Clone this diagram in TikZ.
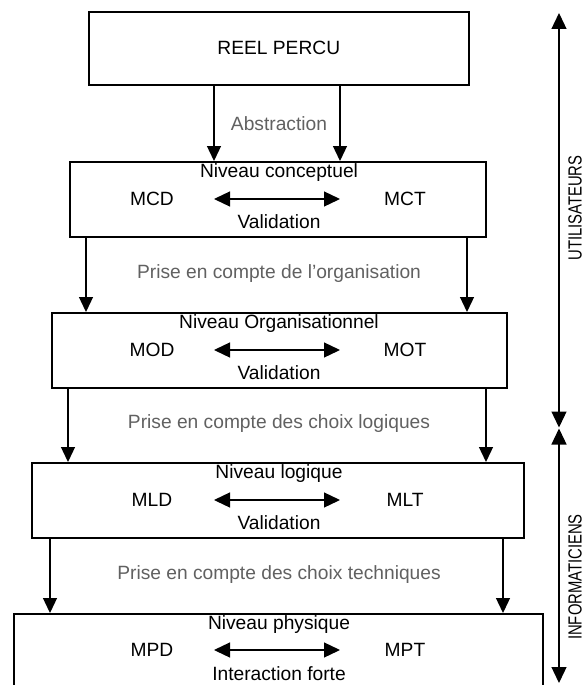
\documentclass[tikz,border=0pt]{standalone}
\usepackage{fontspec}
\setmainfont{Liberation Sans}
\usetikzlibrary{arrows.meta}
\begin{document}
\begin{tikzpicture}[x=1pt,y=-1pt,
  box/.style={draw, line width=1.6pt, inner sep=0pt, anchor=north west},
  lbl/.style={font=\fontsize{19.2}{22}\selectfont, inner sep=0pt},
  glbl/.style={lbl, text=black!62},
  side/.style={font=\fontsize{19}{22}\selectfont, inner sep=0pt, rotate=90},
  arr/.style={line width=1.3pt, -{Triangle[length=15pt,width=14pt]}},
  darr/.style={line width=1.3pt, {Triangle[length=16pt,width=15pt]}-{Triangle[length=16pt,width=15pt]}},
]
\clip (0,0) rectangle (586,685);
\fill[white] (0,0) rectangle (586,685);

% boxes
\node[box, lbl, minimum width=380pt, minimum height=73pt] (b1) at (88,11) {REEL PERCU};
\node[box, minimum width=416pt, minimum height=75pt] (b2) at (69,161) {};
\node[box, minimum width=455pt, minimum height=75pt] (b3) at (51,312) {};
\node[box, minimum width=492pt, minimum height=75pt] (b4) at (31,462) {};
\node[box, minimum width=529pt, minimum height=103pt] (b5) at (13,613) {};

% level contents
\node[lbl] (t2) at (279,173) {Niveau conceptuel};
\node[lbl] (d2) at (152,199) {MCD};
\node[lbl] (p2) at (405,199) {MCT};
\node[lbl] (v2) at (279,222) {Validation};

\node[lbl] (t3) at (279,324) {Niveau Organisationnel};
\node[lbl] (d3) at (152,350) {MOD};
\node[lbl] (p3) at (405,350) {MOT};
\node[lbl] (v3) at (279,373) {Validation};

\node[lbl] (t4) at (279,474) {Niveau logique};
\node[lbl] (d4) at (152,500) {MLD};
\node[lbl] (p4) at (405,500) {MLT};
\node[lbl] (v4) at (279,523) {Validation};

\node[lbl] (t5) at (279,625) {Niveau physique};
\node[lbl] (d5) at (152,650) {MPD};
\node[lbl] (p5) at (405,650) {MPT};
\node[lbl] (v5) at (279,674) {Interaction forte};

% double arrows between data and treatment models
\coordinate (hl) at (214,0); \coordinate (hr) at (340,0);
\foreach \i in {2,3,4,5}{
  \draw[darr] (d\i.east -| hl) -- (p\i.west -| hr);
}

% transition labels
\node[glbl] (l1) at (279,124) {Abstraction};
\node[glbl] (l2) at (279,274) {Prise en compte de l\symbol{39}organisation};
\node[glbl] (l3) at (279,424) {Prise en compte des choix logiques};
\node[glbl] (l4) at (279,575) {Prise en compte des choix techniques};

% transition arrows
\coordinate (a1l) at (214,0); \coordinate (a1r) at (340,0);
\coordinate (a2l) at (86,0);  \coordinate (a2r) at (467,0);
\coordinate (a3l) at (68,0);  \coordinate (a3r) at (486,0);
\coordinate (a4l) at (50,0);  \coordinate (a4r) at (503,0);
\draw[arr] (b1.south -| a1l) -- (b2.north -| a1l);
\draw[arr] (b1.south -| a1r) -- (b2.north -| a1r);
\draw[arr] (b2.south -| a2l) -- (b3.north -| a2l);
\draw[arr] (b2.south -| a2r) -- (b3.north -| a2r);
\draw[arr] (b3.south -| a3l) -- (b4.north -| a3l);
\draw[arr] (b3.south -| a3r) -- (b4.north -| a3r);
\draw[arr] (b4.south -| a4l) -- (b5.north -| a4l);
\draw[arr] (b4.south -| a4r) -- (b5.north -| a4r);

% side axis
\coordinate (st) at (559,13);
\coordinate (sm1) at (559,427.5);
\coordinate (sm2) at (559,428.5);
\coordinate (sb) at (559,683);
\draw[darr] (st) -- (sm1);
\draw[darr] (sm2) -- (sb);
\node[side] (util) at (575,208) {\scalebox{0.78}[1]{UTILISATEURS}};
\node[side] (info) at (575,577) {\scalebox{0.78}[1]{INFORMATICIENS}};
\end{tikzpicture}
\end{document}
